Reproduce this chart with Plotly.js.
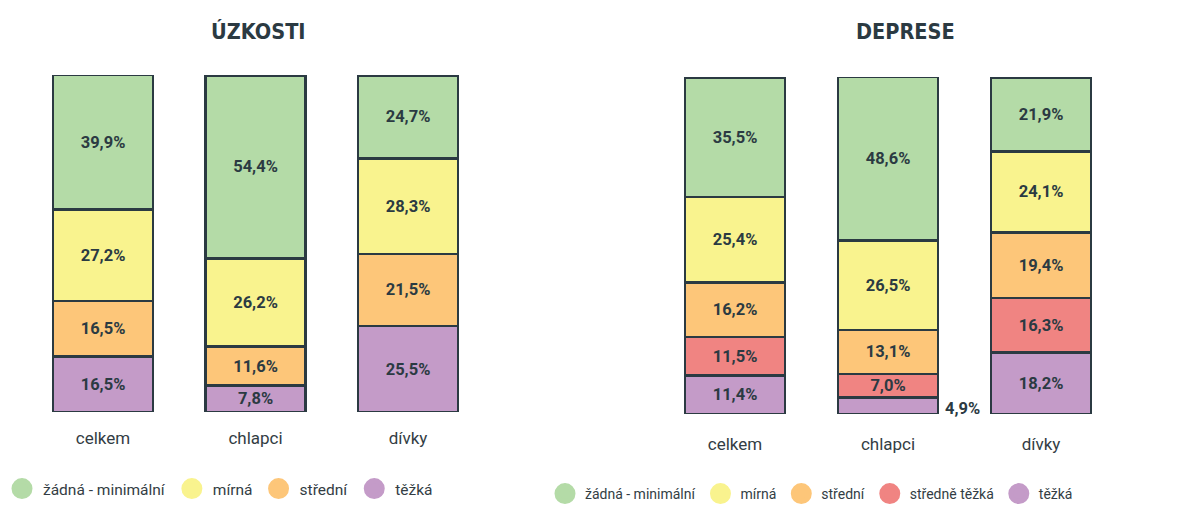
<!DOCTYPE html>
<html><head><meta charset="utf-8">
<script src="https://cdn.plot.ly/plotly-3.0.1.min.js"></script>
<style>html,body{margin:0;padding:0;background:#fff}#chart{width:1200px;height:505px}</style>
</head><body><div id="chart"></div>
<script>
const categories = ['celkem', 'chlapci', 'dívky'];

// ÚZKOSTI
const uzZadna   = [39.9, 54.4, 24.7];
const uzMirna   = [27.2, 26.2, 28.3];
const uzStredni = [16.5, 11.6, 21.5];
const uzTezka   = [16.5, 7.8, 25.5];

// DEPRESE
const deZadna        = [35.5, 48.6, 21.9];
const deMirna        = [25.4, 26.5, 24.1];
const deStredni      = [16.2, 13.1, 19.4];
const deStredneTezka = [11.5, 7.0, 16.3];
const deTezka        = [11.4, 4.9, 18.2];

const legendNamesUz = ['žádná - minimální', 'mírná', 'střední', 'těžká'];
const legendNamesDe = ['žádná - minimální', 'mírná', 'střední', 'středně těžká', 'těžká'];
const titles = ['ÚZKOSTI', 'DEPRESE'];

const C = {zadna:'#b4dba7', mirna:'#f9f38e', stredni:'#fdc679', stredneTezka:'#f08482', tezka:'#c49bc8'};
const DARK = '#2b3a42';
const fmt = v => v.toFixed(1).replace('.', ',') + '%';

function bar(vals, color, xa, ya, tpos) {
  return {
    type:'bar', x:categories, y:vals, xaxis:xa, yaxis:ya,
    marker:{color:color, line:{color:DARK, width:2.5}},
    text: vals.map(fmt), textposition: tpos || 'inside', insidetextanchor:'middle',
    textangle:0, textfont:{family:'Roboto', size:16.5, color:DARK, weight:700},
    showlegend:false, hoverinfo:'skip', cliponaxis:false
  };
}
function leg(name, color, legend, xa, ya) {
  return {type:'scatter', mode:'markers', x:[null], y:[null], xaxis:xa, yaxis:ya, name:name, legend:legend,
    marker:{symbol:'circle', size:16, color:color, line:{color:color, width:5}}, showlegend:true, hoverinfo:'skip'};
}

const data = [
  bar(uzTezka, C.tezka, 'x', 'y'),
  bar(uzStredni, C.stredni, 'x', 'y'),
  bar(uzMirna, C.mirna, 'x', 'y'),
  bar(uzZadna, C.zadna, 'x', 'y'),
  bar(deTezka, C.tezka, 'x2', 'y2', deTezka.map(v => v < 6 ? 'none' : 'inside')),
  bar(deStredneTezka, C.stredneTezka, 'x2', 'y2'),
  bar(deStredni, C.stredni, 'x2', 'y2'),
  bar(deMirna, C.mirna, 'x2', 'y2'),
  bar(deZadna, C.zadna, 'x2', 'y2'),
];
const uzColors = [C.zadna, C.mirna, C.stredni, C.tezka];
const deColors = [C.zadna, C.mirna, C.stredni, C.stredneTezka, C.tezka];
legendNamesUz.forEach((n,i) => data.push(leg(n, uzColors[i], 'legend', 'x', 'y')));
legendNamesDe.forEach((n,i) => data.push(leg(n, deColors[i], 'legend2', 'x2', 'y2')));

// small outside label(s) for tiny segments
const annotations = [];
deTezka.forEach((v,i) => { if (v < 6) annotations.push({
  x: categories[i], y: v/2, xref:'x2', yref:'y2', text: fmt(v), showarrow:false,
  xanchor:'left', xshift:55, yshift:-3, font:{family:'Roboto', size:16.5, color:DARK, weight:700}
});});
const titleFont = {family:'DejaVu Sans Condensed, DejaVu Sans', size:21.5, color:DARK, weight:700};
annotations.push({x:258.5/1200, y:1-31/505, xref:'paper', yref:'paper', text:titles[0], showarrow:false,
  xanchor:'center', yanchor:'middle', font:titleFont});
annotations.push({x:905/1200, y:1-31/505, xref:'paper', yref:'paper', text:titles[1], showarrow:false,
  xanchor:'center', yanchor:'middle', font:titleFont});

const sums = arrs => categories.map((_,i) => arrs.reduce((s,a) => s + a[i], 0));
const uzMax = Math.max(...sums([uzZadna, uzMirna, uzStredni, uzTezka]));
const deMax = Math.max(...sums([deZadna, deMirna, deStredni, deStredneTezka, deTezka]));

const axX = {type:'category', showgrid:false, zeroline:false, showline:false, ticks:'', fixedrange:true,
  tickfont:{family:'Roboto', size:17, color:'#333d44'}, range:[-0.5, 2.5]};
const axY = {showgrid:false, zeroline:false, showline:false, showticklabels:false, ticks:'', fixedrange:true};

const layout = {
  width:1200, height:505, margin:{l:0, r:0, t:0, b:0, autoexpand:false},
  paper_bgcolor:'#fff', plot_bgcolor:'rgba(0,0,0,0)',
  barmode:'stack', bargap:0.344,
  uniformtext:{minsize:16, mode:'show'},
  xaxis: Object.assign({}, axX, {domain:[26.75/1200, 484.25/1200], anchor:'y', ticklabelstandoff:14}),
  yaxis: Object.assign({}, axY, {range:[0, uzMax], domain:[(505-412)/505, (505-75)/505], anchor:'x'}),
  xaxis2: Object.assign({}, axX, {domain:[658.5/1200, 1117.5/1200], anchor:'y2', ticklabelstandoff:18}),
  yaxis2: Object.assign({}, axY, {range:[0, deMax], domain:[(505-414)/505, (505-77)/505], anchor:'x2'}),
  legend:{orientation:'h', x:1/1200, y:1-489/505, xanchor:'left', yanchor:'middle', traceorder:'normal',
    itemwidth:32, font:{family:'Roboto', size:15.5, color:'#333d44'}, bgcolor:'rgba(0,0,0,0)'},
  legend2:{orientation:'h', x:545/1200, y:1-494/505, xanchor:'left', yanchor:'middle', traceorder:'normal',
    font:{family:'Roboto', size:14, color:'#333d44'}, bgcolor:'rgba(0,0,0,0)'},
  annotations: annotations,
  showlegend:true
};
Plotly.newPlot('chart', data, layout, {displayModeBar:false, staticPlot:true});
</script></body></html>
